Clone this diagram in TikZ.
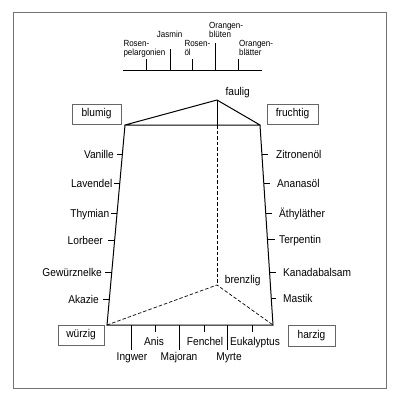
\documentclass[tikz,border=0pt]{standalone}
\usepackage{fontspec}
\setmainfont[FakeStretch=0.9]{Liberation Sans}
\begin{document}
\begin{tikzpicture}[x=1pt,y=-1pt,
  lbl/.style={inner sep=0pt,font=\fontsize{11.3}{13}\selectfont},
  sm/.style={inner sep=0pt,font=\fontsize{8.9}{10}\selectfont},
  box/.style={draw=black!60,line width=0.7pt,inner sep=0pt,font=\fontsize{11.3}{13}\selectfont,minimum height=20pt},
  edgeline/.style={line width=1pt},
  dsh/.style={line width=0.7pt,dash pattern=on 3.5pt off 2pt},
  tk/.style={line width=0.7pt}]
\useasboundingbox (0,0) rectangle (400,400);
\draw[black!55,line width=0.7pt] (13,12) rectangle (386,388);

% top scale
\coordinate (s0) at (123,70);
\coordinate (s1) at (262,70);
\draw[tk] (s0) -- (s1);
\foreach \n/\x/\t in {a/146.7/59,b/170/49,c/192.7/59,d/215.7/43,e/238.3/59}{
  \coordinate (sb\n) at (\x,70);
  \coordinate (st\n) at (\x,\t);
  \draw[tk] (sb\n) -- (st\n);
}
\node[sm,anchor=base west] (rp1) at (123.3,46.5) {Rosen-};
\node[sm,anchor=base west] (rp2) at (123.3,55.5) {pelargonien};
\node[sm,anchor=base west] (ja) at (156.7,37.3) {Jasmin};
\node[sm,anchor=base west] (ro1) at (184.3,46.5) {Rosen-};
\node[sm,anchor=base west] (ro2) at (184.3,55.5) {öl};
\node[sm,anchor=base west] (ob1) at (209,28.3) {Orangen-};
\node[sm,anchor=base west] (ob2) at (209,37.3) {blüten};
\node[sm,anchor=base west] (oa1) at (239,46.5) {Orangen-};
\node[sm,anchor=base west] (oa2) at (239,55.5) {blätter};

% prism
\coordinate (F) at (217,100);
\coordinate (TL) at (125,125);
\coordinate (TR) at (260,125);
\coordinate (TM) at (217,125);
\coordinate (BL) at (107,325);
\coordinate (BR) at (273,325);
\coordinate (B) at (217,285);
\draw[edgeline,line join=round] (TL) -- (F) -- (TR) -- cycle;
\draw[edgeline] (TL) -- (BL) -- (BR) -- (TR);
\draw[tk] (F) -- (TM);
\draw[dsh] (TM) -- (B);
\draw[dsh] (BL) -- (B) -- (BR);

\node[lbl,anchor=base] (faulig) at (237.7,95.7) {faulig};
\node[lbl,anchor=base] (brenzlig) at (242.7,283) {brenzlig};

% boxes
\node[box,minimum width=49pt] (blumig) at (96.5,114) {blumig};
\node[box,minimum width=51pt] (fruchtig) at (292.5,114) {fruchtig};
\node[box,minimum width=46pt] (wuerzig) at (81,335) {würzig};
\node[box,minimum width=47pt,minimum height=21pt] (harzig) at (311.5,335.5) {harzig};

% left ticks
\foreach \n/\lab/\y/\ex/\ts/\le in {
  va/Vanille/154/122.4/117/114,
  la/Lavendel/183/119.8/113.5/112.5,
  th/Thymian/213/117.1/111/109.5,
  lo/Lorbeer/240/114.65/108/103,
  ge/Gewürznelke/272/111.8/105/102,
  ak/Akazie/299/109.3/103/99}{
  \coordinate (e\n) at (\ex,\y);
  \coordinate (t\n) at (\ts,\y);
  \draw[tk] (e\n) -- (t\n);
  \node[lbl,anchor=base east] (l\n) at (\le,\y+4) {\lab};
}
% right ticks
\foreach \n/\lab/\y/\ex/\ts/\le in {
  zi/Zitronenöl/154/261.9/268/276,
  an/Ananasöl/183/263.8/270/277,
  ae/Äthyläther/213/265.7/272/279,
  te/Terpentin/239/267.4/275/279,
  ka/Kanadabalsam/272/269.6/276/283,
  ma/Mastik/298/271.2/276/283}{
  \coordinate (e\n) at (\ex,\y);
  \coordinate (t\n) at (\ts,\y);
  \draw[tk] (e\n) -- (t\n);
  \node[lbl,anchor=base west] (r\n) at (\le,\y+4) {\lab};
}
% bottom ticks
\foreach \n/\lab/\x/\te/\lx/\ly in {
  in/Ingwer/131.7/350/132/360,
  as/Anis/155.7/332/154/345,
  mj/Majoran/179.3/350/179/360,
  fe/Fenchel/204/332/205/345,
  my/Myrte/227.7/350/229/360,
  eu/Eukalyptus/252.3/332/255/345}{
  \coordinate (bb\n) at (\x,325);
  \coordinate (be\n) at (\x,\te);
  \draw[tk] (bb\n) -- (be\n);
  \node[lbl,anchor=base] (b\n) at (\lx,\ly) {\lab};
}
\end{tikzpicture}
\end{document}
